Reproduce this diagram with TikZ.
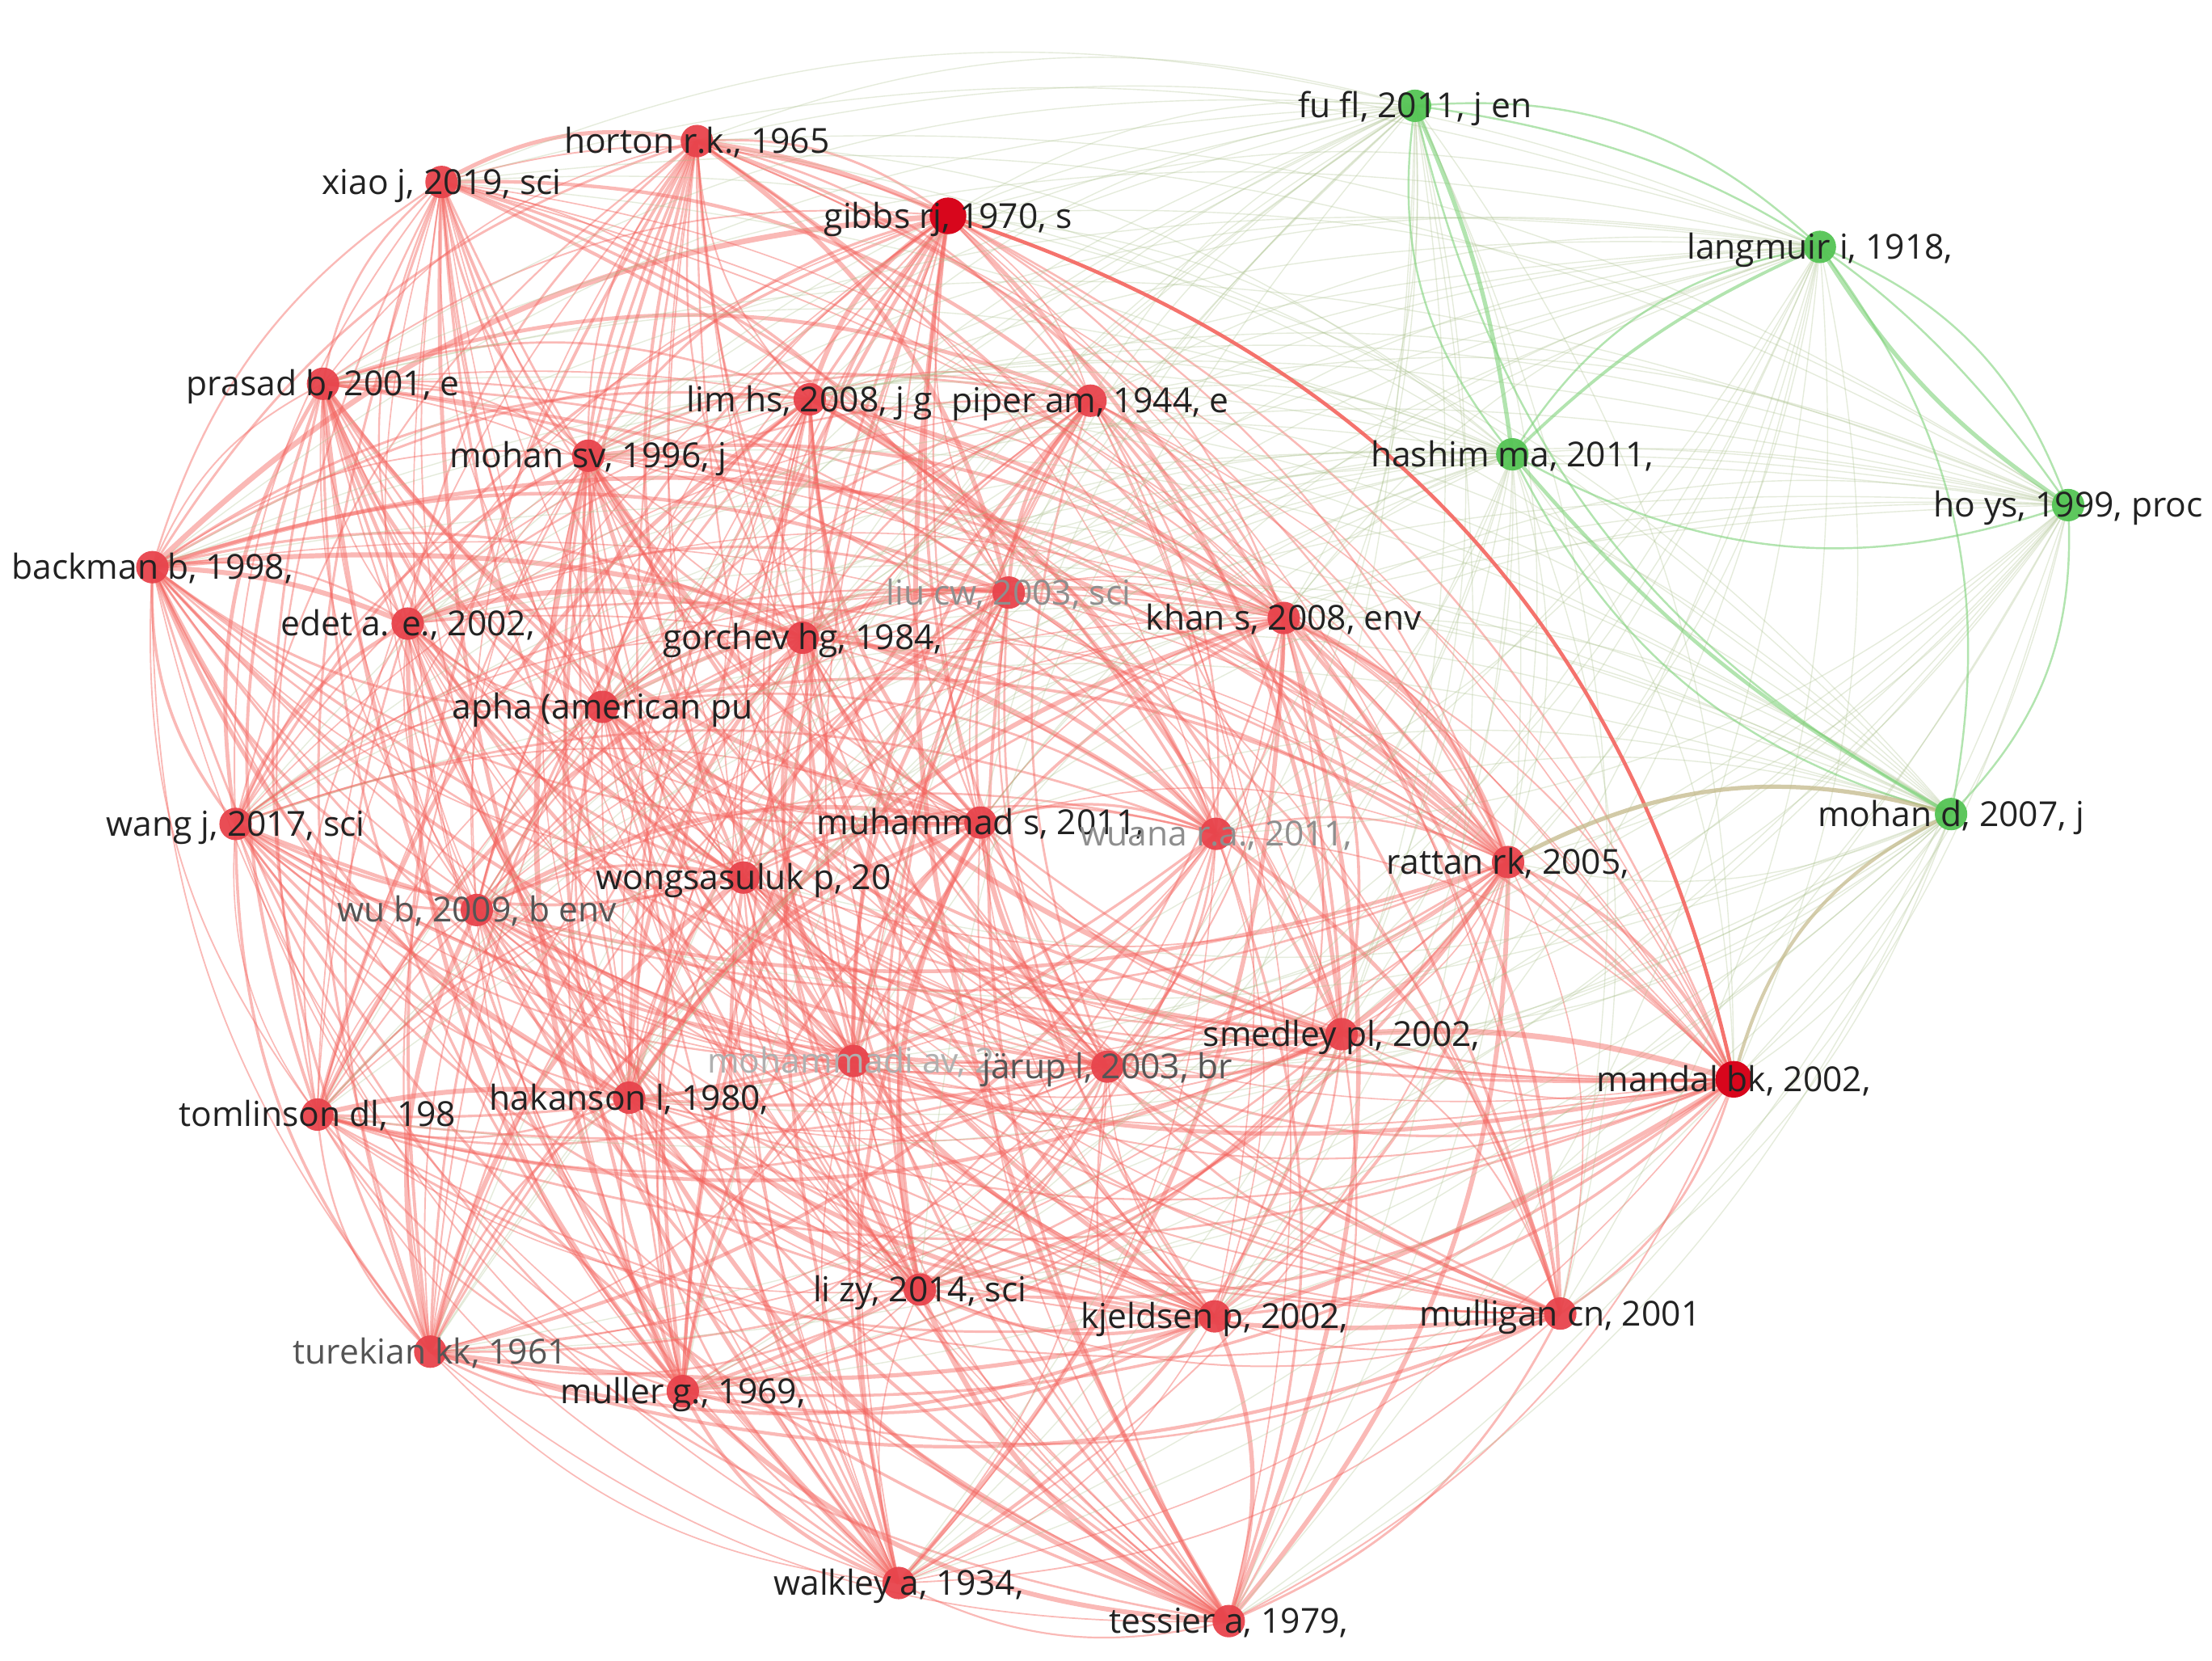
\documentclass[tikz,border=0pt]{standalone}
\usepackage{fontspec}
\setmainfont{Open Sans}
\pgfdeclarelayer{bgfill}
\pgfdeclarelayer{edges}
\pgfdeclarelayer{labels}
\pgfsetlayers{bgfill,edges,main,labels}
\definecolor{redN}{HTML}{E8444C}
\definecolor{redD}{HTML}{D8061C}
\definecolor{greenN}{HTML}{55C455}
\definecolor{edgeR}{HTML}{F4645E}
\definecolor{edgeG}{HTML}{7FD27A}
\definecolor{edgeX}{HTML}{A9C08A}
\definecolor{edgeT}{HTML}{C4B98A}
\definecolor{txt}{HTML}{222222}
\definecolor{txtG}{HTML}{8E8E8E}
\definecolor{txtM}{HTML}{555555}
\begin{document}
\begin{tikzpicture}[x=0.5pt,y=-0.5pt,
  rnode/.style={circle,fill=redN,minimum size=11.5pt,inner sep=0pt,opacity=0.95},
  dnode/.style={circle,fill=redD,minimum size=13pt,inner sep=0pt},
  gnode/.style={circle,fill=greenN,minimum size=11.5pt,inner sep=0pt,opacity=0.95},
  lab/.style={inner sep=0pt,yshift=-1.5pt,font=\fontsize{12.2}{14}\selectfont},
  redge/.style={draw=edgeR,opacity=0.45},
  gedge/.style={draw=edgeG,opacity=0.6},
  xedge/.style={draw=edgeX,opacity=0.3,line width=0.4pt}]
\useasboundingbox (0,0) rectangle (1568,1177);
\begin{pgfonlayer}{bgfill}
\fill[white] (0,0) rectangle (1568,1177);
\end{pgfonlayer}
\def\redlist{horton/494/100, xiao/313/129, gibbs/672/153, prasad/229/272, lim/574/283,
  piper/773/284, mohansv/417/323, backman/108/402, edet/289/442, liu/715/420,
  khan/910/438, gorchev/569/452, apha/427/501, wang/167/584, muhammad/695/583,
  wuana/862/591, rattan/1069/611, wongsa/527/622, wub/338/645, smedley/951/733,
  mandal/1229/765, tomlinson/225/790, hakanson/446/778, mohammadi/605/752, jarup/785/756,
  lizy/652/914, kjeldsen/861/933, mulligan/1106/931, turekian/305/958,
  muller/484/986, walkley/637/1122, tessier/871/1149}
\def\greenlist{fufl/1003/75, langmuir/1290/175, hashim/1072/322, hoys/1466/358, mohand/1383/577}
% red nodes
\foreach \n/\x/\y in \redlist {
  \ifnum\pdfstrcmp{\n}{gibbs}=0 \node[dnode] (\n) at (\x,\y) {};
  \else\ifnum\pdfstrcmp{\n}{mandal}=0 \node[dnode] (\n) at (\x,\y) {};
  \else \node[rnode] (\n) at (\x,\y) {};\fi\fi
}
% green nodes
\foreach \n/\x/\y in \greenlist
  \node[gnode] (\n) at (\x,\y) {};
\pgfmathsetseed{11}
\begin{pgfonlayer}{edges}
\foreach \a/\ax/\ay [count=\i] in \redlist {
  \foreach \b/\bx/\by [count=\j] in \redlist {
    \ifnum\j>\i
      \pgfmathsetmacro\w{0.45+1.6*rnd*rnd}
      \pgfmathsetmacro\bd{((\bx-\ax)/100)*((600-\ay)/100)-((\by-\ay)/100)*((784-\ax)/100)>0 ? 20 : -20}
      \draw[redge,line width=\w pt] (\a.center) to[bend left=\bd] (\b.center);
    \fi
  }
}
\foreach \g/\gx/\gy in \greenlist {
  \foreach \r/\rx/\ry in \redlist {
    \pgfmathsetmacro\bd{((\rx-\gx)/100)*((600-\gy)/100)-((\ry-\gy)/100)*((784-\gx)/100)>0 ? 18 : -18}
    \draw[xedge] (\g.center) to[bend left=\bd] (\r.center);
  }
}
\foreach \a/\ax/\ay [count=\i] in \greenlist {
  \foreach \b/\bx/\by [count=\j] in \greenlist {
    \ifnum\j>\i
      \pgfmathsetmacro\bd{((\bx-\ax)/100)*((330-\ay)/100)-((\by-\ay)/100)*((1240-\ax)/100)>0 ? 24 : -24}
      \draw[gedge,line width=0.7pt] (\a.center) to[bend left=\bd] (\b.center);
    \fi
  }
}
% emphasised links
\draw[draw=edgeR,opacity=0.9,line width=1.3pt] (gibbs.center) to[bend left=30] (mandal.center);
\draw[gedge,line width=1.5pt] (fufl.center) to[bend left=8] (hashim.center);
\draw[gedge,line width=1.5pt] (langmuir.center) to[bend right=12] (hoys.center);
\draw[gedge,line width=1.3pt] (hashim.center) to[bend right=10] (mohand.center);
\draw[gedge,line width=1.1pt] (langmuir.center) to[bend right=10] (hashim.center);
\draw[draw=edgeT,opacity=0.75,line width=1.5pt] (rattan.center) to[bend left=22] (mohand.center);
\draw[draw=edgeT,opacity=0.7,line width=1.2pt] (mandal.center) to[bend left=25] (mohand.center);
\draw[redge,line width=2pt] (smedley.center) to[bend left=10] (mandal.center);
\draw[redge,line width=2pt] (khan.center) to[bend left=25] (rattan.center);
\draw[redge,line width=1.75pt] (rattan.center) to[bend left=10] (smedley.center);
\draw[redge,line width=1.75pt] (horton.center) to[bend left=8] (gibbs.center);
\draw[redge,line width=1.75pt] (tomlinson.center) to[bend left=10] (hakanson.center);
\draw[redge,line width=1.75pt] (backman.center) to[bend left=10] (edet.center);
\end{pgfonlayer}
% labels
\begin{pgfonlayer}{labels}
\foreach \n/\t/\c in {horton/{horton r.k., 1965}/txt, xiao/{xiao j, 2019, sci}/txt,
  gibbs/{gibbs rj, 1970, s}/txt, fufl/{fu fl, 2011, j en}/txt,
  langmuir/{langmuir i, 1918,}/txt, prasad/{prasad b, 2001, e}/txt,
  lim/{lim hs, 2008, j g}/txt, piper/{piper am, 1944, e}/txt,
  mohansv/{mohan sv, 1996, j}/txt, hashim/{hashim ma, 2011,}/txt,
  hoys/{ho ys, 1999, proc}/txt, backman/{backman b, 1998,}/txt,
  edet/{edet a. e., 2002,}/txt, liu/{liu cw, 2003, sci}/txtG,
  khan/{khan s, 2008, env}/txt, gorchev/{gorchev hg, 1984,}/txt,
  apha/{apha (american pu}/txt, wang/{wang j, 2017, sci}/txt,
  muhammad/{muhammad s, 2011,}/txt, wuana/{wuana r.a., 2011,}/txtG,
  mohand/{mohan d, 2007, j}/txt, rattan/{rattan rk, 2005,}/txt,
  wongsa/{wongsasuluk p, 20}/txt, wub/{wu b, 2009, b env}/txtM,
  smedley/{smedley pl, 2002,}/txt, mandal/{mandal bk, 2002,}/txt,
  tomlinson/{tomlinson dl, 198}/txt, hakanson/{hakanson l, 1980,}/txt,
  lizy/{li zy, 2014, sci}/txt, kjeldsen/{kjeldsen p, 2002,}/txt,
  mulligan/{mulligan cn, 2001}/txt, turekian/{turekian kk, 1961}/txtM,
  muller/{muller g., 1969,}/txt, walkley/{walkley a, 1934,}/txt,
  tessier/{tessier a, 1979,}/txt}
  \node[lab,text=\c] (l-\n) at (\n) {\strut\t};
\node[lab,text=txtG!70,anchor=west] (l-mohammadi) at ([xshift=-52pt]mohammadi) {\strut mohammadi av, 2};
\node[lab,text=txtM] (l-jarup) at (jarup) {\strut järup l, 2003, br};
\end{pgfonlayer}
\end{tikzpicture}
\end{document}
